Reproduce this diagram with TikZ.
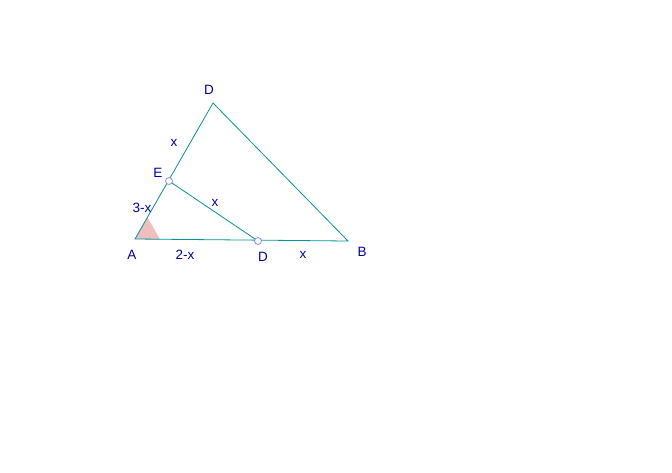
\documentclass[tikz,border=0pt]{standalone}
\usepackage{fontspec}
\setmainfont{Liberation Sans}
\usetikzlibrary{calc}
\definecolor{seg}{RGB}{0,150,150}
\definecolor{lbl}{RGB}{0,0,170}
\definecolor{ang}{RGB}{240,190,190}
\definecolor{pt}{RGB}{140,140,230}
\begin{document}
\begin{tikzpicture}[x=1pt,y=-1pt,
  segline/.style={draw=seg,line width=0.8pt},
  lab/.style={text=lbl,font=\fontsize{13.5}{15}\selectfont,inner sep=0pt},
  ptmark/.style={circle,draw=pt,fill=white,line width=0.8pt,minimum size=7pt,inner sep=0pt}]
\useasboundingbox (0,0) rectangle (672,472);
\coordinate (A) at (135,239);
\coordinate (B) at (348,241);
\coordinate (D) at (213,103);
\coordinate (E) at (169,181);
\coordinate (F) at (258,241);
% angle sector at A
\fill[ang] (A) -- ($(A)!25pt!(B)$) -- ($(A)!25pt!(D)$) -- cycle;
\draw[segline] (A) -- (B) -- (D) -- cycle;
\draw[segline] (E) -- (F);
\node[ptmark] (Em) at (E) {};
\node[ptmark] (Fm) at (F) {};
\node[lab] (lD) at (209,90) {D};
\node[lab] (lx1) at (174,143) {x};
\node[lab] (lE) at (158,173) {E};
\node[lab] (l3x) at (142,208) {3-x};
\node[lab] (lx2) at (215,203) {x};
\node[lab] (lA) at (132,255) {A};
\node[lab] (l2x) at (185,255) {2-x};
\node[lab] (lF) at (263,257) {D};
\node[lab] (lx3) at (303,255) {x};
\node[lab] (lB) at (362,252) {B};
\end{tikzpicture}
\end{document}
